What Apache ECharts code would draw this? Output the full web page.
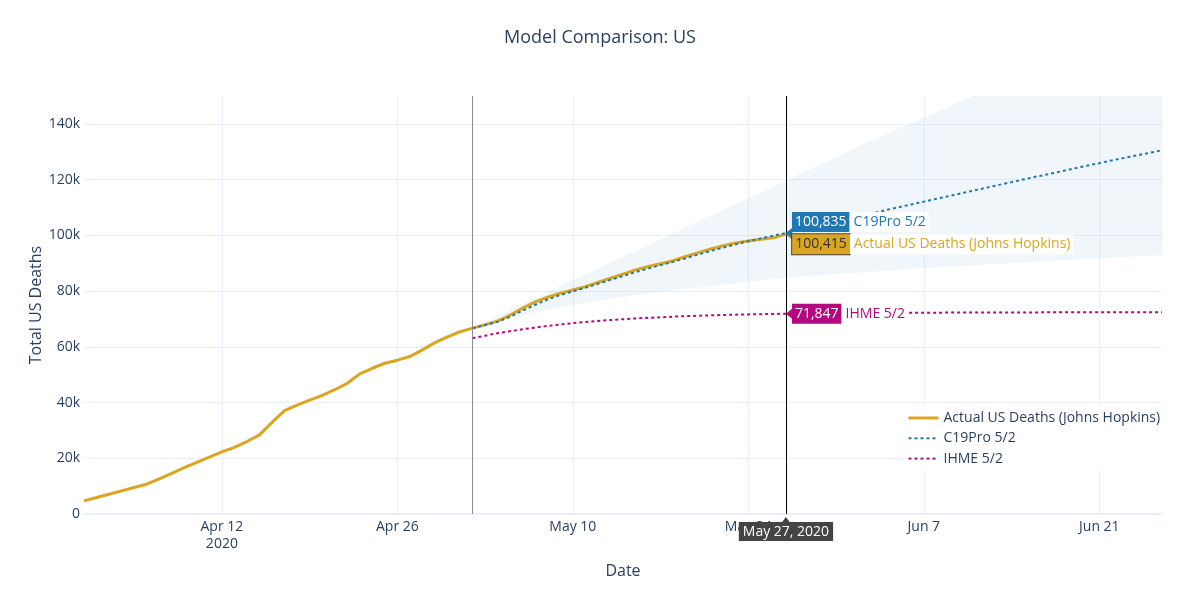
<!DOCTYPE html>
<html>
<head>
<meta charset="utf-8">
<script src="https://cdn.jsdelivr.net/npm/echarts@6.0.0/dist/echarts.min.js"></script>
<style>
  html, body { margin: 0; padding: 0; background: #fff; }
  #chart { width: 1200px; height: 598px; }
</style>
</head>
<body>
<div id="chart"></div>
<script>
// ---------------- data ----------------
const actualStart = '2020-04-01';   // daily from here
const forecastStart = '2020-05-02'; // daily from here (forecast release date)
const markerDate = '2020-05-27';
const axisMin = '2020-04-01';
const axisMax = '2020-06-26';

// Actual US Deaths (Johns Hopkins), Apr 1 .. May 27
const actualDeaths = [
  4700, 5900, 7100, 8300, 9500, 10700, 12600, 14600, 16600, 18500,
  20400, 22300, 23900, 26000, 28400, 32900, 37100, 39100, 40900, 42600,
  44600, 46900, 50300, 52300, 54100, 55200, 56500, 58900, 61500, 63600,
  65400, 66700, 67900, 69200, 71400, 73900, 76100, 77800, 79200, 80400,
  81600, 83100, 84600, 86100, 87600, 88800, 89800, 90900, 92400, 93800,
  95100, 96300, 97300, 98000, 98600, 99100, 100415
];

// C19Pro 5/2 forecast, May 2 .. Jun 26
const c19Pro = [
  66600, 67800, 69000, 70800, 73000, 75100, 77000, 78600, 79900, 81200,
  82600, 84000, 85400, 86800, 88100, 89300, 90500, 91800, 93100, 94400,
  95600, 96800, 97900, 98900, 99900, 100835, 101900, 102900, 103900, 105000,
  106000, 107000, 108000, 109100, 110100, 111100, 112100, 113100, 114100, 115100,
  116100, 117100, 118100, 119100, 120100, 121100, 122000, 123000, 124000, 125000,
  125900, 126900, 127800, 128700, 129600, 130500
];

// C19Pro 5/2 uncertainty band, May 2 .. Jun 26
const c19ProLower = [
  66600, 67900, 69100, 70300, 71400, 72400, 73300, 74200, 75000, 75800,
  76500, 77200, 77900, 78500, 79100, 79700, 80300, 80800, 81300, 81800,
  82300, 82800, 83300, 83800, 84300, 84700, 85100, 85500, 85800, 86100,
  86400, 86700, 87000, 87300, 87600, 87900, 88200, 88500, 88800, 89000,
  89300, 89600, 89800, 90100, 90300, 90600, 90800, 91100, 91300, 91500,
  91800, 92000, 92200, 92500, 92700, 92900
];
const c19ProUpper = [
  66600, 68800, 71000, 73200, 75400, 77600, 79700, 81800, 83900, 86000,
  88100, 90200, 92300, 94400, 96500, 98600, 100700, 102800, 104900, 107000,
  109100, 111200, 113300, 115400, 117500, 119600, 121700, 123800, 125900, 128000,
  130100, 132200, 134200, 136200, 138200, 140200, 142200, 144200, 146200, 148200,
  150200, 152200, 154200, 156200, 158200, 160200, 162200, 164200, 166200, 168200,
  170200, 172200, 174200, 176200, 178200, 180200
];

// IHME 5/2 forecast, May 2 .. Jun 26
const ihme = [
  63100, 64000, 64900, 65600, 66300, 66900, 67500, 68000, 68500, 68900,
  69300, 69600, 69900, 70200, 70400, 70600, 70800, 71000, 71150, 71300,
  71420, 71530, 71630, 71710, 71780, 71847, 71900, 71950, 72000, 72040,
  72080, 72110, 72140, 72170, 72190, 72210, 72230, 72250, 72270, 72290,
  72300, 72310, 72320, 72330, 72340, 72350, 72360, 72370, 72375, 72380,
  72385, 72390, 72395, 72400, 72405, 72410
];

const seriesNames = ['Actual US Deaths (Johns Hopkins)', 'C19Pro 5/2', 'IHME 5/2'];
const xTickDates = ['2020-04-12', '2020-04-26', '2020-05-10', '2020-05-24', '2020-06-07', '2020-06-21'];
const xTickLabels = ['Apr 12\n2020', 'Apr 26', 'May 10', 'May 24', 'Jun 7', 'Jun 21'];
const yTickValues = [0, 20000, 40000, 60000, 80000, 100000, 120000, 140000];
const yTickLabels = ['0', '20k', '40k', '60k', '80k', '100k', '120k', '140k'];
const markerLabel = 'May 27, 2020';

// ---------------- helpers ----------------
const DAY = 86400000;
function ts(s) { const p = s.split('-').map(Number); return Date.UTC(p[0], p[1] - 1, p[2]); }
function daily(start, n) { const t0 = ts(start); return Array.from({ length: n }, (_, i) => t0 + i * DAY); }
function zip(xs, ys) { return ys.map((v, i) => [xs[i], v]); }
function fmt(v) { return v.toLocaleString('en-US'); }

const actualDates = daily(actualStart, actualDeaths.length);
const fcDates = daily(forecastStart, c19Pro.length);
const xTickValues = xTickDates.map(ts);
const mTs = ts(markerDate);
const iMarkA = actualDates.indexOf(mTs);
const iMarkF = fcDates.indexOf(mTs);

const FONT = '"Open Sans", "Noto Sans", Arial, sans-serif';
const TXT = '#2a3f5f';
const GRID = '#ebf0f8';
const GOLD = '#daa520';
const BLUE = '#1f77b4';
const PINK = '#b3087f';

function hoverLabel(color, numColor, valueText, nameText, dy, border) {
  return {
    symbol: 'path://M0,5 L6,0 L6,10 Z',
    symbolSize: [6, 10],
    symbolOffset: [3, 0],
    symbolKeepAspect: false,
    itemStyle: { color: color, borderColor: border || color, borderWidth: border ? 0.5 : 0 },
    silent: true,
    z: 20,
    label: {
      show: true,
      position: 'right',
      distance: 0,
      offset: [0, dy],
      formatter: '{a|' + valueText + '}{b|' + nameText + '}',
      rich: {
        a: {
          backgroundColor: color, color: numColor, fontFamily: FONT, fontSize: 14,
          padding: [0, 3, 0, 3], lineHeight: 20, height: 20,
          borderColor: border || color, borderWidth: border ? 1 : 0
        },
        b: {
          backgroundColor: '#fff', color: color, fontFamily: FONT, fontSize: 14,
          padding: [0, 3, 0, 4], lineHeight: 20, height: 20
        }
      }
    },
    data: []
  };
}

const mpActual = hoverLabel(GOLD, '#333', fmt(actualDeaths[iMarkA]), seriesNames[0], 10, '#444');
mpActual.data = [
  { coord: [mTs, actualDeaths[iMarkA]] },
  {
    coord: [mTs, 0], symbol: 'triangle', symbolSize: [9, 6], symbolOffset: [0, 6],
    itemStyle: { color: '#444', borderWidth: 0 }, label: { show: false }
  }
];
const mpC19 = hoverLabel(BLUE, '#fff', fmt(c19Pro[iMarkF]), seriesNames[1], -11);
mpC19.data = [{ coord: [mTs, c19Pro[iMarkF]] }];
const mpIhme = hoverLabel(PINK, '#fff', fmt(ihme[iMarkF]), seriesNames[2], 0);
mpIhme.data = [{ coord: [mTs, ihme[iMarkF]] }];

// band polygon: upper edge forward, lower edge backward, all through api.coord
function renderBand(params, api) {
  const pts = [];
  for (let i = 0; i < fcDates.length; i++) pts.push(api.coord([fcDates[i], c19ProUpper[i]]));
  for (let i = fcDates.length - 1; i >= 0; i--) pts.push(api.coord([fcDates[i], c19ProLower[i]]));
  const cs = params.coordSys;
  return {
    type: 'polygon',
    shape: { points: pts },
    style: { fill: 'rgba(31,119,180,0.065)', stroke: null },
    clipPath: { type: 'rect', shape: { x: cs.x, y: cs.y, width: cs.width, height: cs.height } },
    silent: true
  };
}

const chart = echarts.init(document.getElementById('chart'), null, { renderer: 'canvas' });
const option = {
  animation: false,
  backgroundColor: '#fff',
  textStyle: { fontFamily: FONT },
  title: {
    text: 'Model Comparison: US',
    left: 'center',
    top: 24,
    textStyle: { fontFamily: FONT, fontSize: 18, fontWeight: 'normal', color: TXT }
  },
  grid: { left: 84, right: 38, top: 96, bottom: 84, containLabel: false },
  legend: {
    data: [
      { name: seriesNames[0], lineStyle: { width: 3 } },
      { name: seriesNames[1] },
      { name: seriesNames[2] }
    ],
    orient: 'vertical',
    left: 902,
    top: 406,
    itemWidth: 30,
    itemHeight: 14,
    itemGap: 6.3,
    padding: [5, 5, 5, 5],
    backgroundColor: '#fff',
    itemStyle: { opacity: 0 },
    textStyle: { fontFamily: FONT, fontSize: 14, color: TXT }
  },
  xAxis: {
    type: 'value',
    min: ts(axisMin),
    max: ts(axisMax),
    name: 'Date',
    nameLocation: 'middle',
    nameGap: 49,
    nameTextStyle: { fontFamily: FONT, fontSize: 16, color: TXT },
    axisLine: { show: true, onZero: false, lineStyle: { color: GRID, width: 2 } },
    axisTick: { show: false, customValues: xTickValues },
    axisLabel: {
      customValues: xTickValues,
      formatter: function (v) {
        const i = xTickValues.indexOf(v);
        return i >= 0 ? xTickLabels[i] : '';
      },
      color: TXT, fontFamily: FONT, fontSize: 14, lineHeight: 17, margin: 5,
      hideOverlap: false
    },
    splitLine: { show: true, lineStyle: { color: GRID, width: 1 } }
  },
  yAxis: {
    type: 'value',
    min: 0,
    max: 150000,
    name: 'Total US Deaths',
    nameLocation: 'middle',
    nameGap: 40,
    nameMoveOverlap: false,
    nameTextStyle: { fontFamily: FONT, fontSize: 16, color: TXT },
    axisLine: { show: false },
    axisTick: { show: false, customValues: yTickValues },
    axisLabel: {
      customValues: yTickValues,
      formatter: function (v) {
        const i = yTickValues.indexOf(v);
        return i >= 0 ? yTickLabels[i] : '';
      },
      color: TXT, fontFamily: FONT, fontSize: 14, margin: 4
    },
    splitLine: { show: true, lineStyle: { color: GRID, width: 1 } }
  },
  series: [
    {
      name: 'C19Pro 5/2 range', type: 'custom', renderItem: renderBand,
      data: [[fcDates[0], c19ProLower[0]]], silent: true, z: 1
    },
    {
      name: seriesNames[0], type: 'line', data: zip(actualDates, actualDeaths),
      symbol: 'none', color: GOLD, lineStyle: { color: GOLD, width: 3, join: 'round' }, z: 3,
      markLine: {
        silent: true, symbol: ['none', 'none'], animation: false,
        data: [
          { xAxis: ts(forecastStart), lineStyle: { color: '#8c8c8c', width: 1, type: 'solid' }, label: { show: false } },
          {
            xAxis: mTs, lineStyle: { color: '#000', width: 1, type: 'solid' },
            label: {
              show: true, position: 'start', distance: 8, formatter: markerLabel,
              color: '#fff', backgroundColor: '#444', padding: [3, 4, 2, 4],
              fontFamily: FONT, fontSize: 14
            }
          }
        ]
      },
      markPoint: mpActual
    },
    {
      name: seriesNames[1], type: 'line', data: zip(fcDates, c19Pro),
      symbol: 'none', color: BLUE, lineStyle: { color: BLUE, width: 2, type: [3, 3] }, z: 4,
      markPoint: mpC19
    },
    {
      name: seriesNames[2], type: 'line', data: zip(fcDates, ihme),
      symbol: 'none', color: PINK, lineStyle: { color: PINK, width: 2, type: [3, 3] }, z: 4,
      markPoint: mpIhme
    }
  ]
};
chart.setOption(option);
</script>
</body>
</html>
